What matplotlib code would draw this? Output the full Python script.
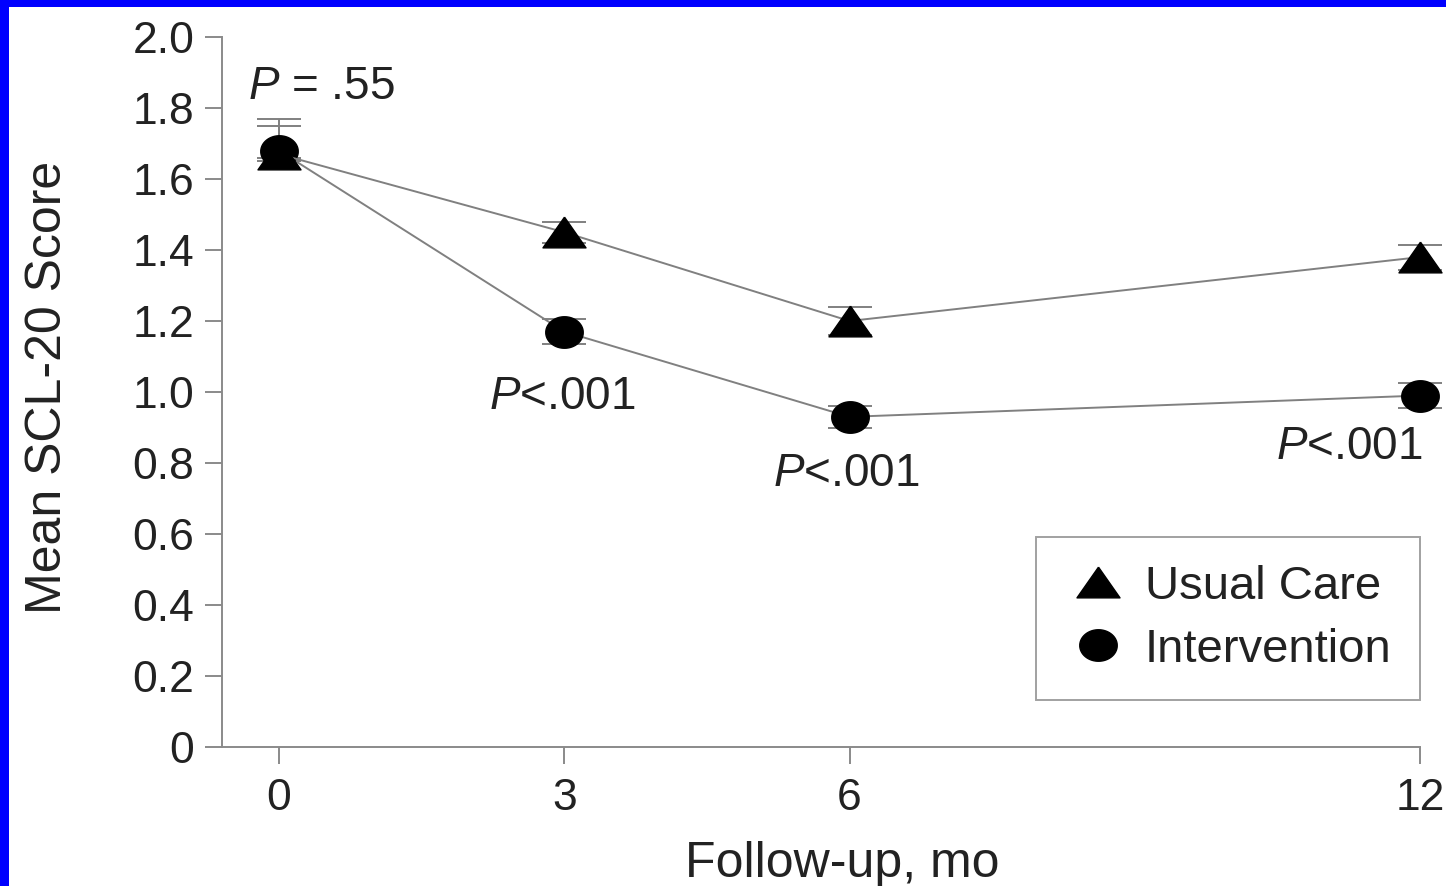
import numpy as np
import matplotlib
matplotlib.use("Agg")
import matplotlib.pyplot as plt
from matplotlib.lines import Line2D
from matplotlib.patches import Rectangle

# ── Data ──────────────────────────────────────────────────────────────────────
months = [0, 3, 6, 12]
usual_care = [1.67, 1.45, 1.20, 1.38]
usual_care_err_lo = [0.02, 0.03, 0.04, 0.035]
usual_care_err_hi = [0.10, 0.03, 0.04, 0.035]
intervention = [1.68, 1.17, 0.93, 0.99]
intervention_err_lo = [0.02, 0.035, 0.03, 0.035]
intervention_err_hi = [0.07, 0.035, 0.03, 0.035]

y_ticks = [0, 0.2, 0.4, 0.6, 0.8, 1.0, 1.2, 1.4, 1.6, 1.8, 2.0]
y_tick_labels = ["0", "0.2", "0.4", "0.6", "0.8", "1.0", "1.2", "1.4", "1.6", "1.8", "2.0"]

p_labels = [r"$P$ = .55", r"$P$<.001", r"$P$<.001", r"$P$<.001"]
p_x = [-0.33, 2.98, 5.97, 11.26]
p_y = [1.86, 0.985, 0.77, 0.845]
p_ha = ["left", "center", "center", "center"]

# ── Style ─────────────────────────────────────────────────────────────────────
plt.rcParams["font.family"] = ["Liberation Sans", "DejaVu Sans"]
plt.rcParams["mathtext.fontset"] = "custom"
plt.rcParams["mathtext.it"] = "Liberation Sans:italic"
plt.rcParams["mathtext.rm"] = "Liberation Sans"

GREY = "#8a8a8a"
LINE_GREY = "#808080"
TEXT = "#222222"
BLUE = "#0000ff"

# wide markers (the original is stretched horizontally)
tri = [(0, 1), (-1.4, -1), (1.4, -1), (0, 1)]
t = np.linspace(0, 2 * np.pi, 60)
ell = list(zip(1.19 * np.cos(t), np.sin(t)))

fig = plt.figure(figsize=(14.46, 8.86), dpi=100, facecolor="white")
# blue frame on the left and top edges
fig.patches.append(Rectangle((0, 0), 9 / 1446, 1, transform=fig.transFigure,
                             facecolor=BLUE, edgecolor="none", zorder=10))
fig.patches.append(Rectangle((0, 1 - 7 / 886), 1, 7 / 886, transform=fig.transFigure,
                             facecolor=BLUE, edgecolor="none", zorder=10))

ax = fig.add_axes([222 / 1446, 139 / 886, 1198 / 1446, 710 / 886])
ax.set_facecolor("none")

for vals, lo, hi in [(intervention, intervention_err_lo, intervention_err_hi),
                     (usual_care, usual_care_err_lo, usual_care_err_hi)]:
    eb = ax.errorbar(months, vals, yerr=[lo, hi], fmt="none", ecolor=LINE_GREY,
                     elinewidth=1.4, capsize=16, capthick=1.4, zorder=2)
    for art in eb.lines[1] + eb.lines[2]:
        art.set_clip_on(False)

ax.plot(months, intervention, color=LINE_GREY, lw=1.4, marker=ell, ms=27,
        mfc="black", mec="black", zorder=3, clip_on=False)
ax.plot(months, usual_care, color=LINE_GREY, lw=1.4, marker=tri, ms=31,
        mfc="black", mec="black", zorder=4, clip_on=False)

for lab, x, y, ha in zip(p_labels, p_x, p_y, p_ha):
    ax.text(x, y, lab, ha=ha, va="center", fontsize=33, color=TEXT)

ax.set_xlim(-0.6, 12)
ax.set_ylim(0, 2.0)
ax.set_xticks(months)
ax.set_yticks(y_ticks)
ax.set_yticklabels(y_tick_labels)
ax.tick_params(axis="both", direction="out", length=12, width=1.4, color=GREY,
               labelsize=32, labelcolor=TEXT)
ax.tick_params(axis="y", pad=8)
ax.tick_params(axis="x", pad=10)
ax.spines[["top", "right"]].set_visible(False)
for s in ["left", "bottom"]:
    ax.spines[s].set_color(GREY)
    ax.spines[s].set_linewidth(1.4)

ax.set_ylabel("Mean SCL-20 Score", fontsize=36, color=TEXT, va="center")
ax.yaxis.set_label_coords(-0.145, 0.506)
ax.set_xlabel("Follow-up, mo", fontsize=36, color=TEXT)
ax.xaxis.set_label_coords(0.5175, -0.133)

handles = [
    Line2D([], [], linestyle="none", marker=tri, ms=31, color="black"),
    Line2D([], [], linestyle="none", marker=ell, ms=27, color="black"),
]
leg = ax.legend(handles, ["Usual Care", "Intervention"], loc="lower right",
                bbox_to_anchor=(1.0, 0.066), borderaxespad=0, fontsize=34,
                frameon=True, fancybox=False, borderpad=0.6, labelspacing=0.4,
                handlelength=1.4, handletextpad=0.3)
leg.get_frame().set_edgecolor(GREY)
leg.get_frame().set_linewidth(1.4)
for txt in leg.get_texts():
    txt.set_color(TEXT)

fig.savefig("out.png", dpi=100)
